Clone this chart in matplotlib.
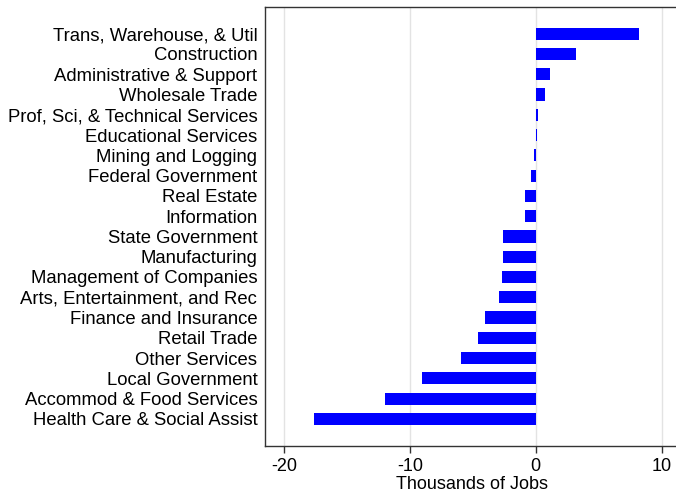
import matplotlib.pyplot as plt

plt.rcParams['font.family'] = ['Liberation Sans', 'DejaVu Sans']
plt.rcParams['axes.unicode_minus'] = False

# bottom to top
sectors = ['Health Care & Social Assist', 'Accommod & Food Services', 'Local Government',
           'Other Services', 'Retail Trade', 'Finance and Insurance',
           'Arts, Entertainment, and Rec', 'Management of Companies', 'Manufacturing',
           'State Government', 'Information', 'Real Estate', 'Federal Government',
           'Mining and Logging', 'Educational Services', 'Prof, Sci, & Technical Services',
           'Wholesale Trade', 'Administrative & Support', 'Construction',
           'Trans, Warehouse, & Util']
change = [-17.6, -12.0, -9.0, -5.9, -4.6, -4.0, -2.9, -2.7, -2.6, -2.6,
          -0.85, -0.85, -0.4, -0.1, 0.1, 0.2, 0.7, 1.1, 3.2, 8.2]
xticks = [-20, -10, 0, 10]

fig = plt.figure(figsize=(6.76, 4.93), dpi=100)
ax = fig.add_axes([0.392, 0.096, 0.611, 0.890])

ax.barh(range(len(sectors)), change, height=0.6, color='#0000ff', zorder=3)

ax.set_xlim(-21.5, 11.3)
ax.set_ylim(-1.32, len(sectors) - 1 + 1.32)
ax.set_xticks(xticks)
ax.set_yticks(range(len(sectors)))
ax.set_yticklabels(sectors, fontsize=13.3)
ax.tick_params(axis='y', length=0, pad=5.5)
ax.tick_params(axis='x', length=5, width=1, labelsize=13, pad=4, color='#333333')
ax.grid(axis='x', color='#e3e3e3', lw=1, zorder=0)
ax.set_xlabel('Thousands of Jobs', fontsize=13, labelpad=0.5)

for s in ax.spines.values():
    s.set_color('#333333')
    s.set_linewidth(1)

fig.savefig('out.png', dpi=100)
